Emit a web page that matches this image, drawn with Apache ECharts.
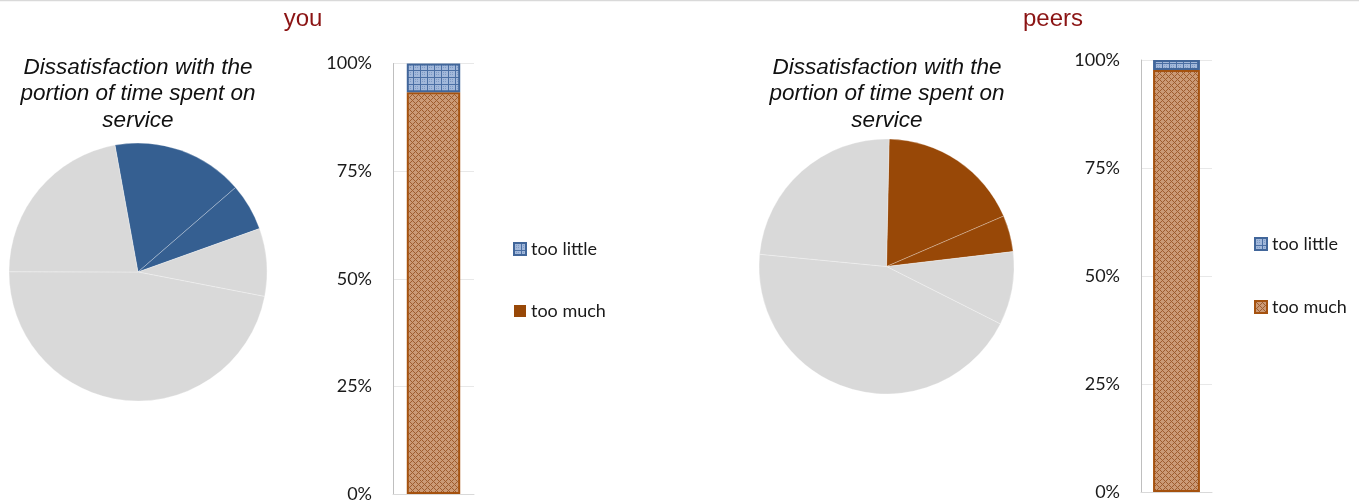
<!DOCTYPE html>
<html>
<head>
<meta charset="utf-8">
<script src="https://cdn.jsdelivr.net/npm/echarts@6/dist/echarts.min.js"></script>
<style>
  html, body { margin: 0; padding: 0; background: #fff; }
  #chart { width: 1359px; height: 503px; }
</style>
</head>
<body>
<div id="chart"></div>
<script>
// data
const panelTitles = ['you', 'peers'];
const pieTitle = 'Dissatisfaction with the\nportion of time spent on\nservice';
const seriesNames = ['too little', 'too much'];
// pie slices, percent of the circle, clockwise from the first coloured slice
const youPie = [16.5, 5.9, 8.5, 47.0, 22.1];
const peersPie = [18.2, 4.6, 9.3, 44.1, 23.8];
// stacked bar shares
const youTooLittle = [0.067];
const youTooMuch = [0.933];
const peersTooLittle = [0.023];
const peersTooMuch = [0.977];
const yTicks = [0, 0.25, 0.5, 0.75, 1];

const GRAY = '#d9d9d9';
const BLUE = '#355f91';
const BROWN = '#984807';

function makeTile(rows, colors) {
  const c = document.createElement('canvas');
  c.width = rows[0].length;
  c.height = rows.length;
  const ctx = c.getContext('2d');
  rows.forEach((r, y) => {
    for (let x = 0; x < r.length; x++) {
      ctx.fillStyle = colors[r[x]];
      ctx.fillRect(x, y, 1, 1);
    }
  });
  return c;
}

const brownTile = makeTile([
  'X.X...',
  '.X....',
  'X.X...',
  '...X.X',
  '....X.',
  '...X.X'
], { 'X': '#9e5c2e', '.': '#cb9a76' });

const blueTile = makeTile([
  'XXXXXXX',
  'X......',
  'X.o.o..',
  'X......',
  'X.o.o..',
  'X......',
  'X......'
], { 'X': '#4b6fa4', '.': '#a2b8da', 'o': '#7f9bc6' });

const brownFill = { image: brownTile, repeat: 'repeat' };
const blueFill = { image: blueTile, repeat: 'repeat' };

function pieData(values, colour) {
  return values.map((v, i) => ({
    value: v,
    name: 'slice' + i,
    itemStyle: { color: i < 2 ? colour : GRAY }
  }));
}

function barSeries(idx, little, much) {
  return [
    {
      name: seriesNames[1], type: 'bar', stack: 's' + idx,
      xAxisIndex: idx, yAxisIndex: idx, barWidth: '66%',
      data: much,
      itemStyle: { color: brownFill, borderColor: '#a5520f', borderWidth: 2 }
    },
    {
      name: seriesNames[0], type: 'bar', stack: 's' + idx,
      xAxisIndex: idx, yAxisIndex: idx, barWidth: '66%',
      data: little,
      itemStyle: { color: blueFill, borderColor: '#41669a', borderWidth: 2 }
    }
  ];
}

function yAxisFor(idx) {
  return {
    type: 'value', gridIndex: idx, min: 0, max: 1, interval: 0.25,
    axisLine: { show: true, lineStyle: { color: '#bfbfbf', width: 1 } },
    axisTick: { show: false },
    splitLine: { lineStyle: { color: '#e8e8e8' } },
    axisLabel: {
      margin: 21, fontFamily: 'Lato', fontSize: 18, color: '#1a1a1a',
      formatter: v => yTicks.indexOf(v) >= 0 ? Math.round(v * 100) + '%' : ''
    }
  };
}

function xAxisFor(idx) {
  return {
    type: 'category', gridIndex: idx, data: [''],
    axisLine: { lineStyle: { color: '#d9d9d9' } },
    axisTick: { show: false },
    axisLabel: { show: false }
  };
}

const legendText = { fontFamily: 'Lato', fontSize: 18, color: '#1a1a1a', lineHeight: 18 };
const headStyle = { fontFamily: 'Liberation Sans', fontSize: 24, fontWeight: 'normal', color: '#8b1414' };
const subStyle = { fontFamily: 'Liberation Sans', fontSize: 22.5, fontStyle: 'italic', fontWeight: 'normal', color: '#111', lineHeight: 26.5 };

const option = {
  animation: false,
  backgroundColor: '#fff',
  title: [
    { text: panelTitles[0], left: 298, top: 2, textAlign: 'center', textStyle: headStyle },
    { text: panelTitles[1], left: 1048, top: 2, textAlign: 'center', textStyle: headStyle },
    { text: pieTitle, left: 133, top: 49, textAlign: 'center', textStyle: subStyle },
    { text: pieTitle, left: 882, top: 49, textAlign: 'center', textStyle: subStyle }
  ],
  graphic: [
    { type: 'line', shape: { x1: 0, y1: 0.5, x2: 1359, y2: 0.5 }, style: { stroke: '#d9d9d9', lineWidth: 1.5 }, silent: true }
  ],
  legend: [
    {
      orient: 'vertical', left: 508, top: 235, itemWidth: 12, itemHeight: 12, itemGap: 44,
      textStyle: legendText, selectedMode: false,
      data: [
        { name: seriesNames[0], icon: 'rect' },
        { name: seriesNames[1], icon: 'rect', itemStyle: { color: BROWN, borderWidth: 0 } }
      ]
    },
    {
      orient: 'vertical', left: 1249, top: 230, itemWidth: 12, itemHeight: 12, itemGap: 45,
      textStyle: legendText, selectedMode: false,
      data: [
        { name: seriesNames[0], icon: 'rect' },
        { name: seriesNames[1], icon: 'rect' }
      ]
    }
  ],
  grid: [
    { left: 393, top: 63.5, width: 81, height: 432.5 },
    { left: 1141, top: 60, width: 71, height: 432 }
  ],
  xAxis: [xAxisFor(0), xAxisFor(1)],
  yAxis: [yAxisFor(0), yAxisFor(1)],
  series: [
    {
      type: 'pie', center: [138, 272], radius: 129, startAngle: 100.3, clockwise: true,
      silent: true, label: { show: false }, labelLine: { show: false },
      itemStyle: { borderColor: 'rgba(255,255,255,0.55)', borderWidth: 0.5 },
      data: pieData(youPie, BLUE)
    },
    {
      type: 'pie', center: [886.5, 266.5], radius: 127.5, startAngle: 88.8, clockwise: true,
      silent: true, label: { show: false }, labelLine: { show: false },
      itemStyle: { borderColor: 'rgba(255,255,255,0.55)', borderWidth: 0.5 },
      data: pieData(peersPie, BROWN)
    },
    ...barSeries(0, youTooLittle, youTooMuch),
    ...barSeries(1, peersTooLittle, peersTooMuch)
  ]
};

const chart = echarts.init(document.getElementById('chart'), null, { renderer: 'canvas' });
chart.setOption(option);
</script>
</body>
</html>
